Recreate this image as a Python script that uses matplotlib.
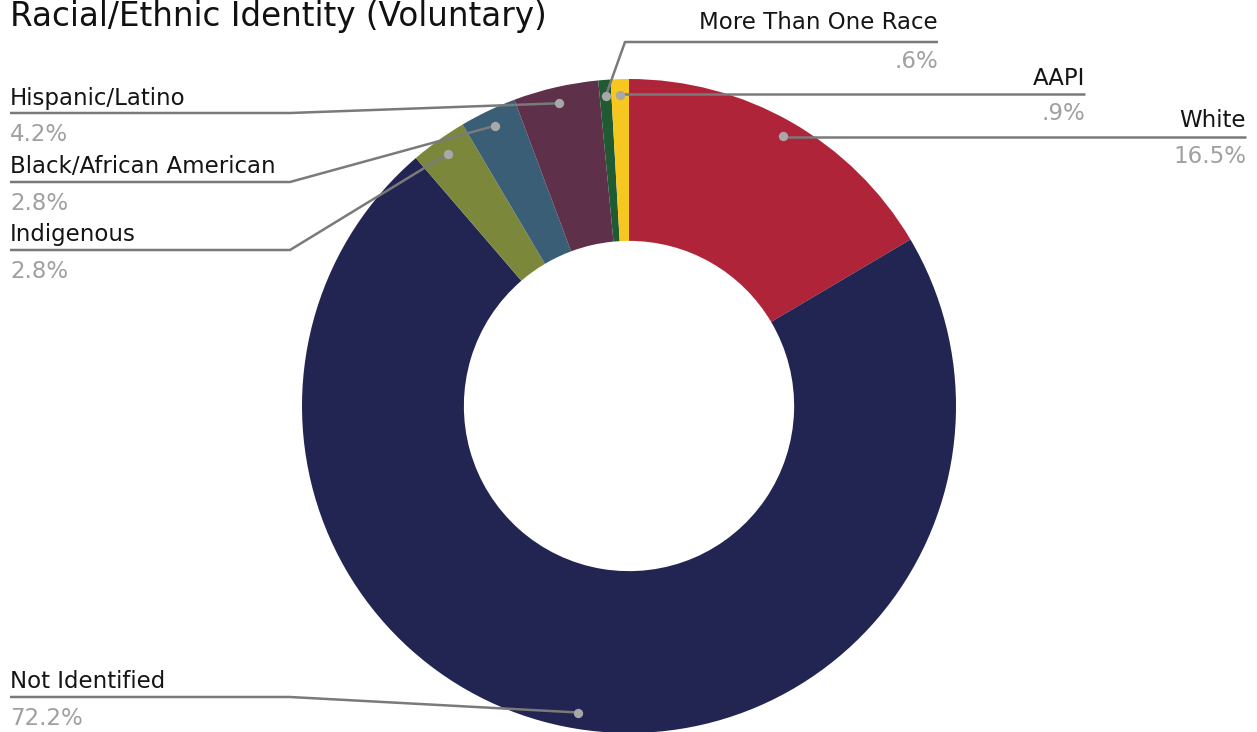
import matplotlib
matplotlib.use("Agg")
import matplotlib.pyplot as plt
import numpy as np

plt.rcParams["font.family"] = ["DejaVu Sans"]

# data (clockwise from 12 o'clock)
labels = ["White", "Not Identified", "Indigenous", "Black/African American",
          "Hispanic/Latino", "More Than One Race", "AAPI"]
values = [16.5, 72.2, 2.8, 2.8, 4.2, 0.6, 0.9]
pct_labels = ["16.5%", "72.2%", "2.8%", "2.8%", "4.2%", ".6%", ".9%"]
colors = ["#B0243A", "#222451", "#7B883C", "#3B5E77", "#5E3049", "#1F5A33", "#F6C71F"]

W, H = 1257, 732
CX, CY, R = 629, 406, 327   # pie centre / radius in pixels

# label layout in pixels: side, text anchor x, name baseline y, underline y, elbow
layout = {
    "White":                  ("right", 1246, 127, 137, None),
    "AAPI":                   ("right", 1085, 85, 94, None),
    "More Than One Race":     ("right", 938, 29, 42, 625),
    "Hispanic/Latino":        ("left", 10, 105, 113, 290),
    "Black/African American": ("left", 10, 173, 182, 290),
    "Indigenous":             ("left", 10, 241, 250, 290),
    "Not Identified":         ("left", 10, 688, 697, 290),
}

def px(x, y):
    return (x - CX) / R, (CY - y) / R

fig = plt.figure(figsize=(W / 100, H / 100), dpi=100)
ax = fig.add_axes([0, 0, 1, 1])
ax.pie(values, colors=colors, startangle=90, counterclock=False,
       wedgeprops=dict(width=0.495, edgecolor="none"))
ax.set_xlim(-CX / R, (W - CX) / R)
ax.set_ylim((CY - H) / R, CY / R)
ax.axis("off")

vals = np.array(values)
mid = np.cumsum(vals) - vals / 2
ang = np.deg2rad(90 - mid / vals.sum() * 360)
dx, dy = 0.95 * np.cos(ang), 0.95 * np.sin(ang)

for i, lab in enumerate(labels):
    side, tx, ty, uy, elbow = layout[lab]
    if side == "left":
        pts = [px(tx, uy), px(elbow, uy), (dx[i], dy[i])]
        ha = "left"
        gap = 28
    else:
        if elbow is None:
            pts = [(dx[i], dy[i]), (dx[i], px(0, uy)[1]), px(tx, uy)]
        else:
            pts = [(dx[i], dy[i]), px(elbow, uy), px(tx, uy)]
        ha = "right"
        gap = 26
    xs, ys = zip(*pts)
    ax.plot(xs, ys, color="#7A7A7A", lw=1.8, solid_capstyle="butt", zorder=3)
    nx, ny = px(tx, ty)
    ax.text(nx, ny, lab, ha=ha, va="baseline", fontsize=16.5, color="#151515")
    qx, qy = px(tx, uy + gap)
    ax.text(qx, qy, pct_labels[i], ha=ha, va="baseline", fontsize=16.5, color="#A0A0A0")

ax.scatter(dx, dy, s=45, color="#A8A8A8", zorder=4, linewidths=0)

tx, ty = px(10, 26)
ax.text(tx, ty, "Racial/Ethnic Identity (Voluntary)", ha="left", va="baseline",
        fontsize=23.5, color="#111111")

fig.savefig("out.png", dpi=100)
